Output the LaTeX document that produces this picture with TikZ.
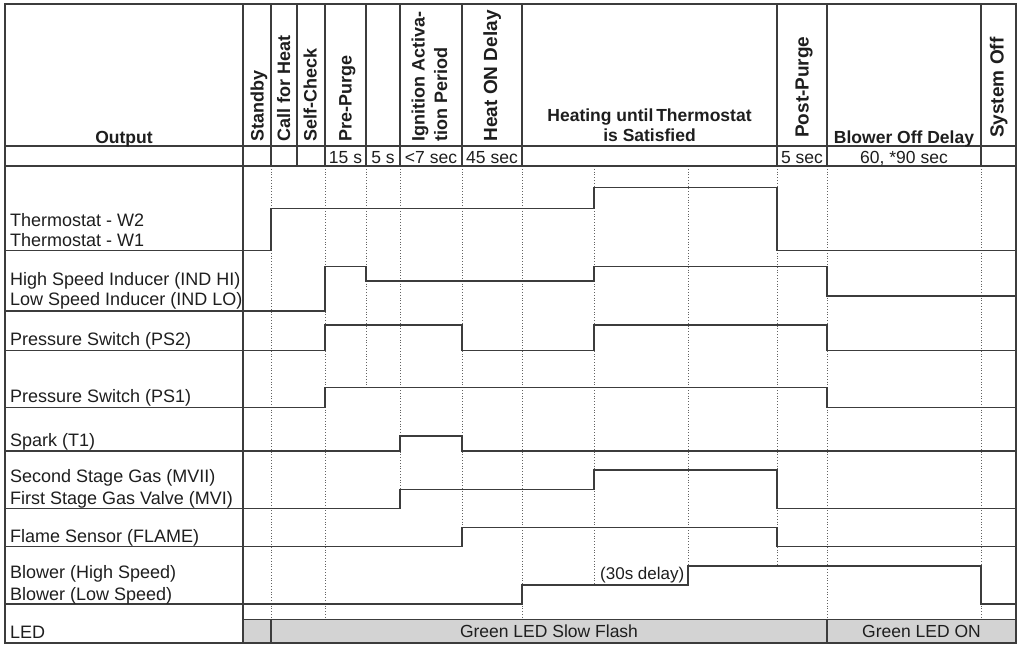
\documentclass[tikz,border=0pt]{standalone}
\usepackage{fontspec}
\setmainfont{Liberation Sans}
\definecolor{ln}{HTML}{3C3C3C}
\definecolor{txt}{HTML}{1E1E1E}
\definecolor{ledgray}{HTML}{D3D3D3}
\begin{document}
\begin{tikzpicture}[x=1pt,y=-1pt,
  gridline/.style={draw=ln,line width=1.2pt},
  frame/.style={draw=ln,line width=1.5pt},
  wave/.style={draw=ln,line width=1.3pt,line join=miter},
  dotv/.style={draw=ln!80,line width=0.8pt,dotted},
  lbl/.style={anchor=base west,inner sep=0pt,text=txt,font=\fontsize{18}{21}\selectfont},
  hdr/.style={anchor=base,inner sep=0pt,text=txt,font=\fontsize{17.5}{20}\selectfont\bfseries},
  rot/.style={anchor=base west,rotate=90,inner sep=0pt,text=txt,font=\fontsize{18}{21}\selectfont\bfseries},
  rotbig/.style={rot,font=\fontsize{19}{22}\selectfont\bfseries},
  tm/.style={anchor=base,inner sep=0pt,text=txt,font=\fontsize{17.5}{20}\selectfont}]
\useasboundingbox (0,0) rectangle (1024,649);
% LED bar
\fill[ledgray] (243,619.3) rectangle (1016,643);
% dotted guide lines
\foreach \x/\e in {271/619.3,325/619.3,366/387.7,400/508.3,462/527.7,522/619.3,594/585,688/566,777/566,827/619.3,981/619.3}
  \draw[dotv] (\x,166) -- (\x,\e);
% grid
\draw[gridline] (243,4) -- (243,643);
\foreach \x in {271,297,325,366,400,462,522,777,827,981}
  \draw[gridline] (\x,4) -- (\x,166);
\draw[gridline] (5,146) -- (1016,146);
\draw[gridline] (5,166) -- (1016,166);
\foreach \y in {250.7,311,350.7,407.3,451,508.3,546.7,604}
  \draw[gridline] (5,\y) -- (243,\y);
\draw[gridline] (243,619.3) -- (1016,619.3);
\draw[gridline] (271,619.3) -- (271,643);
\draw[gridline] (827,619.3) -- (827,643);
\draw[frame] (5,4) rectangle (1016,643);
% waveforms
\draw[wave] (243,250.7) -- (271,250.7) -- (271,208.3) -- (594,208.3) -- (594,187.3) -- (777,187.3) -- (777,250.7) -- (1016,250.7);
\draw[wave] (243,311) -- (325,311) -- (325,266.7) -- (366,266.7) -- (366,281) -- (594,281) -- (594,266.7) -- (827,266.7) -- (827,296) -- (1016,296);
\draw[wave] (243,350.7) -- (325,350.7) -- (325,325) -- (462,325) -- (462,350.7) -- (594,350.7) -- (594,325) -- (827,325) -- (827,350.7) -- (1016,350.7);
\draw[wave] (243,407.3) -- (325,407.3) -- (325,387.7) -- (827,387.7) -- (827,407.3) -- (1016,407.3);
\draw[wave] (243,451) -- (400,451) -- (400,436) -- (462,436) -- (462,451) -- (1016,451);
\draw[wave] (243,508.3) -- (400,508.3) -- (400,489.3) -- (594,489.3) -- (594,470) -- (777,470) -- (777,508.3) -- (1016,508.3);
\draw[wave] (243,546.7) -- (462,546.7) -- (462,527.7) -- (777,527.7) -- (777,546.7) -- (1016,546.7);
\draw[wave] (243,604) -- (522,604) -- (522,585) -- (688,585) -- (688,566) -- (981,566) -- (981,604) -- (1016,604);
% header texts
\node[hdr] (hout) at (124,143.5) {Output};
\node[rot] (hstb) at (263.5,141.5) {Standby};
\node[rot] (hcfh) at (290,141.5) {Call for Heat};
\node[rot] (hsc) at (316.5,141.5) {Self-Check};
\node[rot] (hpp) at (351.5,141.5) {Pre-Purge};
\node[rot] (hia1) at (424.5,141.5) {Ignition Activa-};
\node[rot] (hia2) at (447,141.5) {tion Period};
\node[rotbig] (hhod) at (497,141.5) {Heat ON Delay};
\node[hdr] (hht1) at (649.5,121.7) {Heating until\,Thermostat};
\node[hdr] (hht2) at (649.5,141.7) {is Satisfied};
\node[rotbig] (hpst) at (808.5,138) {Post-Purge};
\node[hdr] (hbod) at (904,143.5) {Blower Off Delay};
\node[rotbig] (hsys) at (1003.5,138) {System Off};
% time row
\node[tm] (t1) at (345.5,163) {15 s};
\node[tm] (t2) at (383,163) {5 s};
\node[tm] (t3) at (431,163) {<7 sec};
\node[tm] (t4) at (492,163) {45 sec};
\node[tm] (t5) at (802,163) {5 sec};
\node[tm] (t6) at (904,163) {60, *90 sec};
% row labels
\node[lbl] (l1) at (10,226.7) {Thermostat - W2};
\node[lbl] (l2) at (10,246) {Thermostat - W1};
\node[lbl] (l3) at (10,285) {High Speed Inducer (IND HI)};
\node[lbl] (l4) at (10,305.7) {Low Speed Inducer (IND LO)};
\node[lbl] (l5) at (10,345.7) {Pressure Switch (PS2)};
\node[lbl] (l6) at (10,402.3) {Pressure Switch (PS1)};
\node[lbl] (l7) at (10,446) {Spark (T1)};
\node[lbl] (l8) at (10,482.3) {Second Stage Gas (MVII)};
\node[lbl] (l9) at (10,504) {First Stage Gas Valve (MVI)};
\node[lbl] (l10) at (10,542.3) {Flame Sensor (FLAME)};
\node[lbl] (l11) at (10,578.3) {Blower (High Speed)};
\node[lbl] (l12) at (10,600) {Blower (Low Speed)};
\node[lbl] (l13) at (10,638.3) {LED};
% in-chart texts
\node[anchor=base west,inner sep=0pt,text=txt,font=\fontsize{17}{20}\selectfont] (delay) at (600,579.5) {(30s delay)};
\node[tm] (led1) at (549,637.5) {Green LED Slow Flash};
\node[tm] (led2) at (921.5,637.5) {Green LED ON};
\end{tikzpicture}
\end{document}
